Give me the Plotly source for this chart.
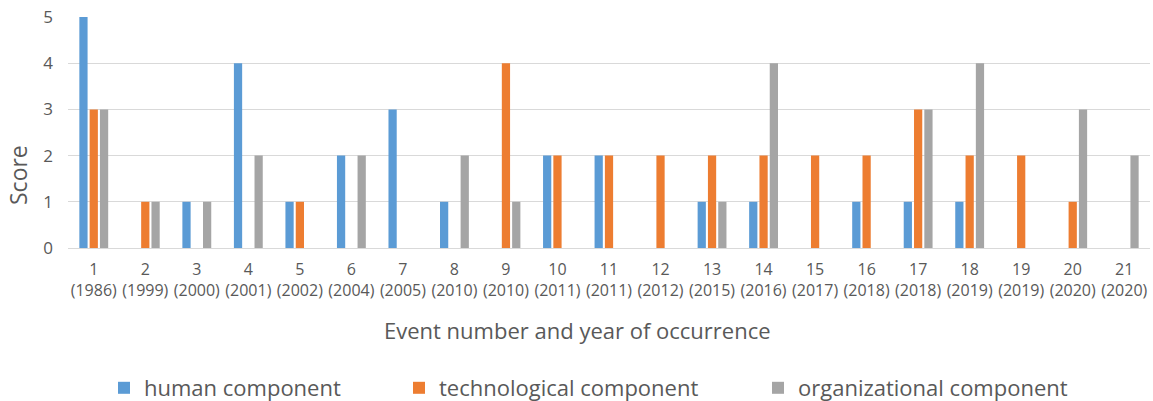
import plotly.graph_objects as go

event_labels = ["1<br>(1986)", "2<br>(1999)", "3<br>(2000)", "4<br>(2001)", "5<br>(2002)",
                "6<br>(2004)", "7<br>(2005)", "8<br>(2010)", "9<br>(2010)", "10<br>(2011)",
                "11<br>(2011)", "12<br>(2012)", "13<br>(2015)", "14<br>(2016)", "15<br>(2017)",
                "16<br>(2018)", "17<br>(2018)", "18<br>(2019)", "19<br>(2019)", "20<br>(2020)",
                "21<br>(2020)"]
human = [5, 0, 1, 4, 1, 2, 3, 1, 0, 2, 2, 0, 1, 1, 0, 1, 1, 1, 0, 0, 0]
technological = [3, 1, 0, 0, 1, 0, 0, 0, 4, 2, 2, 2, 2, 2, 2, 2, 3, 2, 2, 1, 0]
organizational = [3, 1, 1, 2, 0, 2, 0, 2, 1, 0, 0, 0, 1, 4, 0, 0, 3, 4, 0, 3, 2]

series_names = ["human component", "technological component", "organizational component"]
series_values = [human, technological, organizational]
series_colors = ["#5B9BD5", "#ED7D31", "#A5A5A5"]

W, H = 1153, 401
M_L, M_R, M_T, M_B = 68, 3, 17, 153
PLOT_W, PLOT_H = W - M_L - M_R, H - M_T - M_B
font_family = "Open Sans, Noto Sans, sans-serif"
text_color = "#595959"


def px_to_paper_x(px):
    return (px - M_L) / PLOT_W


def px_to_paper_y(py):
    return (H - M_B - py) / PLOT_H


# one legend per series so each entry can sit at its own horizontal spot
legend_ids = ["legend", "legend2", "legend3"]
legend_left_px = [104, 399, 758]

fig = go.Figure()
for name, vals, color, lid in zip(series_names, series_values, series_colors, legend_ids):
    fig.add_trace(go.Bar(x=event_labels, y=vals, name=name, marker_color=color,
                         marker_line_width=0, legend=lid))

legend_common = dict(orientation="h", xref="container", yref="container",
                     xanchor="left", yanchor="middle", y=(H - 388) / H,
                     font=dict(size=22, color=text_color), itemwidth=30,
                     bgcolor="rgba(0,0,0,0)")
legends = {lid: dict(legend_common, x=px / W) for lid, px in zip(legend_ids, legend_left_px)}

fig.update_layout(
    width=W, height=H,
    margin=dict(l=M_L, r=M_R, t=M_T, b=M_B),
    paper_bgcolor="white", plot_bgcolor="white",
    barmode="group", bargap=0.4, bargroupgap=0.2,
    font=dict(family=font_family, color=text_color, size=15),
    showlegend=True,
    **legends,
    xaxis=dict(
        type="category", showgrid=False, ticks="", showline=False, automargin=False,
        tickfont=dict(size=16, color=text_color), ticklabelstandoff=10,
    ),
    yaxis=dict(
        range=[0, 5], dtick=1, showgrid=True, gridcolor="#D9D9D9", gridwidth=1.3,
        zeroline=True, zerolinecolor="#D9D9D9", zerolinewidth=1.3, automargin=False,
        tickfont=dict(size=17, color=text_color), ticklabelstandoff=14,
    ),
    annotations=[
        dict(text="Event number and year of occurrence", xref="paper", yref="paper",
             x=px_to_paper_x(577), y=px_to_paper_y(330), xanchor="center", yanchor="middle",
             showarrow=False, font=dict(size=22, color=text_color)),
        dict(text="Score", xref="paper", yref="paper", textangle=-90,
             x=px_to_paper_x(18), y=px_to_paper_y(175), xanchor="center", yanchor="middle",
             showarrow=False, font=dict(size=23, color=text_color)),
    ],
)

fig.write_html("out.html")
